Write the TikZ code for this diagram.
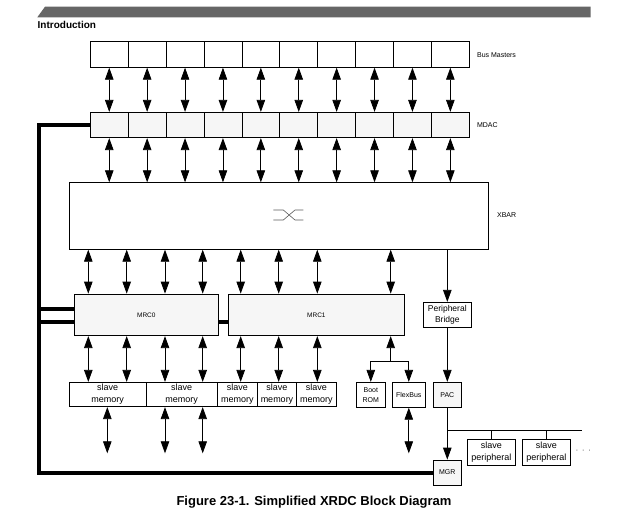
\documentclass[tikz,border=0pt]{standalone}
\usepackage{fontspec}
\setmainfont{Liberation Sans}
\usetikzlibrary{arrows.meta}
\definecolor{boxgray}{RGB}{246,246,246}
\definecolor{bargray}{RGB}{102,102,102}
\definecolor{symgray}{RGB}{90,90,90}
\begin{document}
\begin{tikzpicture}[x=1pt,y=-1pt,line width=0.8pt,
    box/.style={draw=black,inner sep=0pt,align=center},
    tiny/.style={font=\fontsize{7}{10}\selectfont},
    small/.style={font=\fontsize{9}{12}\selectfont},
    biarrow/.style={{Triangle[length=12pt,width=8.5pt]}-{Triangle[length=12pt,width=8.5pt]}},
    onearrow/.style={-{Triangle[length=12pt,width=8.5pt]}},
    ctrl/.style={line width=4pt}]
    \useasboundingbox (0,0) rectangle (633,531);
    \fill[bargray] (37.3,17.3) -- (45,6.7) -- (590.7,6.7) -- (590.7,17.3) -- cycle;
    \node[anchor=west,inner sep=0pt,font=\bfseries\fontsize{10}{12}\selectfont] (intro) at (37.3,25) {Introduction};
    \foreach \i in {1,...,10} {
      \node[box,minimum width=37.9pt,minimum height=25.6pt] (bm\i) at ({90.3+37.9*(\i-0.5)},54.5) {};
      \node[box,fill=boxgray,minimum width=37.9pt,minimum height=25.4pt] (md\i) at ({90.3+37.9*(\i-0.5)},125) {};
    }
    \node[tiny,anchor=west,inner sep=0pt] (bmlabel) at (476.7,55) {Bus Masters};
    \node[tiny,anchor=west,inner sep=0pt] (mdlabel) at (476.7,125) {MDAC};
    \node[box,minimum width=419pt,minimum height=66.6pt] (xbar) at (278.8,216) {};
    \node[tiny,anchor=west,inner sep=0pt] (xbarlabel) at (496.7,215) {XBAR};
    \draw[symgray,line width=0.6pt] (xbar.center) ++(-5.5,-6) -- ++(10,0) -- ++(11.7,10) -- ++(8.3,0);
    \draw[symgray,line width=0.6pt] (xbar.center) ++(-5.5,4) -- ++(10,0) -- ++(11.7,-10) -- ++(8.3,0);
    \foreach \i in {1,...,10} {
      \draw[biarrow] (bm\i.south) -- (md\i.north);
      \draw[biarrow] (md\i.south) -- (md\i.south |- xbar.north);
    }
    \node[box,fill=boxgray,minimum width=144pt,minimum height=41.7pt,font=\fontsize{6.5}{8}\selectfont] (mrc0) at (146.3,314.85) {MRC0};
    \node[box,fill=boxgray,minimum width=175.3pt,minimum height=41.7pt,font=\fontsize{6.5}{8}\selectfont] (mrc1) at (316.35,314.85) {MRC1};
    \foreach \x in {88.3,126.7,165,202.7}
      \draw[biarrow] (xbar.south -| \x,0) -- (mrc0.north -| \x,0);
    \foreach \x in {240.7,278.7,317.3,390.7}
      \draw[biarrow] (xbar.south -| \x,0) -- (mrc1.north -| \x,0);
    \node[box,small,minimum width=76.7pt,minimum height=24.4pt] (sm1) at (107.65,394.5) {slave\\memory};
    \node[box,small,minimum width=71.3pt,minimum height=24.4pt] (sm2) at (181.65,394.5) {slave\\memory};
    \node[box,small,minimum width=40pt,minimum height=24.4pt] (sm3) at (237.3,394.5) {slave\\memory};
    \node[box,small,minimum width=39.4pt,minimum height=24.4pt] (sm4) at (277,394.5) {slave\\memory};
    \node[box,small,minimum width=39.3pt,minimum height=24.4pt] (sm5) at (316.35,394.5) {slave\\memory};
    \foreach \x/\m in {88.3/sm1,126.7/sm1,165/sm2,202.7/sm2}
      \draw[biarrow] (mrc0.south -| \x,0) -- (\m.north -| \x,0);
    \foreach \x/\m in {240.7/sm3,278.7/sm4,317.3/sm5}
      \draw[biarrow] (mrc1.south -| \x,0) -- (\m.north -| \x,0);
    \coordinate (memfoot) at (0,453.3);
    \foreach \x/\m in {107.3/sm1,165/sm2,202.7/sm2}
      \draw[biarrow] (\m.south -| \x,0) -- (memfoot -| \x,0);
    \node[box,tiny,minimum width=29pt,minimum height=25pt] (bootrom) at (370.8,394.8) {Boot\\ROM};
    \node[box,tiny,minimum width=33pt,minimum height=25pt] (flexbus) at (408.8,394.8) {FlexBus};
    \coordinate (rombranch) at (390.7,361);
    \draw[onearrow] (rombranch) -- (rombranch |- mrc1.south);
    \draw[onearrow] (rombranch) -| (bootrom.north);
    \draw[onearrow] (rombranch) -| (flexbus.north);
    \draw[biarrow] (flexbus.south) -- (flexbus.south |- memfoot);
    \node[box,minimum width=47.4pt,minimum height=25pt,font=\fontsize{8.5}{11.5}\selectfont] (pbridge) at (447.3,314.8) {Peripheral\\Bridge};
    \node[box,tiny,fill=boxgray,minimum width=28pt,minimum height=25pt] (pac) at (447.3,394.8) {PAC};
    \node[box,tiny,fill=boxgray,minimum width=28pt,minimum height=25pt] (mgr) at (447.3,472.5) {MGR};
    \draw[onearrow] (xbar.south -| pbridge.north) -- (pbridge.north);
    \draw[onearrow] (pbridge.south) -- (pac.north);
    \draw[onearrow] (pac.south) -- (mgr.north);
    \node[box,small,minimum width=48pt,minimum height=26pt] (sp1) at (491.3,452.3) {slave\\peripheral};
    \node[box,small,minimum width=48pt,minimum height=26pt] (sp2) at (546.3,452.3) {slave\\peripheral};
    \coordinate (busend) at (582.3,430.7);
    \draw (pac.south |- busend) -- (busend);
    \draw (sp1.north) -- (sp1.north |- busend);
    \draw (sp2.north) -- (sp2.north |- busend);
    \node[tiny] (more) at (583.3,451) {·\hspace{4pt}·\hspace{4pt}·};
    \coordinate (ctrlx) at (39.3,0);
    \coordinate (mrcup) at ([yshift=6pt]mrc0.west);
    \coordinate (mrclow) at ([yshift=-6.8pt]mrc0.west);
    \draw[ctrl] (md1.west) -- (md1.west -| ctrlx) -- (mgr.west -| ctrlx) -- (mgr.west);
    \draw[ctrl] (mrcup -| ctrlx) -- (mrcup);
    \draw[ctrl] (mrclow -| ctrlx) -- (mrclow);
    \draw[ctrl] (mrclow -| mrc0.east) -- (mrclow -| mrc1.west);
    \node[font=\bfseries\fontsize{13}{15}\selectfont] (caption) at (314,502) {Figure 23-1. Simplified XRDC Block Diagram};
\end{tikzpicture}
\end{document}
